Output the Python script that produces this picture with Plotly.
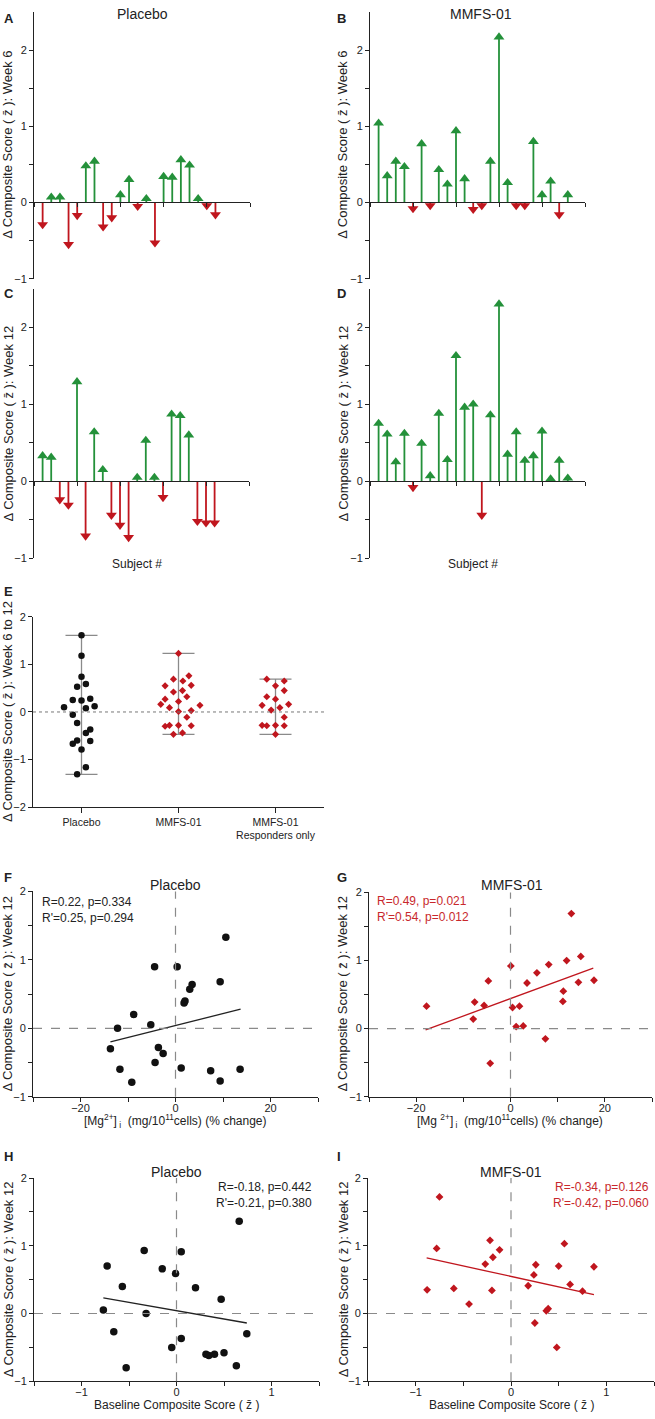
import plotly.graph_objects as go

W, H = 655, 1419
FONT = "Liberation Sans, Arial, sans-serif"
GREEN = "#24913a"
RED = "#c0161e"
TXTRED = "#c8282c"
AX = "#222222"

# ---------------- data ----------------
# Panels A-D: change in composite score per subject
week6_placebo = [-0.29, 0.07, 0.07, -0.55, -0.17, 0.48, 0.54, -0.32, -0.20, 0.10, 0.30,
                 -0.05, 0.05, -0.53, 0.34, 0.33, 0.56, 0.49, 0.05, -0.04, -0.16]
week6_mmfs = [1.04, 0.35, 0.54, 0.47, -0.08, 0.77, -0.04, 0.43, 0.24, 0.94, 0.31, -0.09,
              -0.04, 0.54, 2.17, 0.26, -0.04, -0.04, 0.80, 0.10, 0.28, -0.16, 0.10]
week12_placebo = [0.33, 0.31, -0.24, -0.31, 1.29, -0.71, 0.64, 0.15, -0.44, -0.57, -0.73,
                  0.05, 0.53, 0.05, -0.21, 0.87, 0.85, 0.60, -0.52, -0.54, -0.54]
week12_mmfs = [0.75, 0.61, 0.25, 0.62, -0.08, 0.49, 0.07, 0.88, 0.28, 1.63, 0.96, 1.00,
               -0.44, 0.86, 2.30, 0.35, 0.64, 0.27, 0.33, 0.65, 0.03, 0.27, 0.04]

# Panel E: change week 6 to 12
e_categories = ["Placebo", "MMFS-01", "MMFS-01<br>Responders only"]
e_placebo = [1.61, 1.18, 0.74, 0.53, 0.59, 0.25, 0.24, 0.28, 0.10, 0.08, 0.12, -0.06,
             -0.23, -0.44, -0.37, -0.67, -0.60, -0.61, -0.79, -1.16, -1.31]
e_placebo_jitter = [0, 0, 0, -0.045, 0.045, -0.09, 0, 0.09, -0.18, 0.045, 0.135, -0.09,
                    -0.045, 0.045, 0.09, -0.09, -0.045, 0.09, 0, 0.045, -0.045]
e_mmfs = [1.23, 0.69, 0.65, 0.76, 0.55, 0.56, 0.42, 0.45, 0.32, 0.27, 0.16, 0.22, 0.09,
          0.14, 0.03, 0.01, -0.11, -0.30, -0.28, -0.28, -0.29, -0.47, -0.44]
e_mmfs_jitter = [0, -0.052, 0.045, 0.107, -0.138, 0.131, -0.052, 0.041, 0.086, -0.138,
                 -0.183, 0, -0.093, 0.221, 0.131, 0, 0.086, -0.138, -0.093, 0, 0.131,
                 -0.052, 0.041]
e_resp = [0.69, 0.65, 0.55, 0.32, 0.45, 0.27, 0.14, 0.04, 0.09, 0.16, -0.11, -0.28,
          -0.29, -0.28, -0.29, -0.47]
e_resp_jitter = [-0.09, 0.09, 0, -0.09, 0.09, 0, -0.138, -0.045, 0.045, 0.135, 0.09,
                 -0.138, -0.09, 0, 0.09, 0]

# Panel F: placebo, Mg change vs week-12 change
f_x = [10.6, -4.4, 0.35, 3.5, 3.0, 9.4, 1.8, 2.0, -8.8, -12.2, -5.2, -13.7, -3.6, -2.6,
       -4.3, -11.7, -9.2, 1.2, 7.4, 9.4, 13.6]
f_y = [1.33, 0.90, 0.90, 0.64, 0.57, 0.68, 0.37, 0.40, 0.20, 0.00, 0.05, -0.30, -0.28,
       -0.37, -0.50, -0.60, -0.79, -0.58, -0.62, -0.77, -0.60]
f_fit_x = [-13.7, 13.7]
f_fit_y = [-0.20, 0.28]

# Panel G: MMFS-01, Mg change vs week-12 change
g_x = [-17.8, -7.6, -7.9, -5.6, -4.7, -4.3, 0.07, 0.43, 1.2, 1.9, 2.7, 3.5, 5.6, 8.1,
       7.4, 11.2, 11.1, 11.9, 12.9, 14.9, 14.4, 17.7]
g_y = [0.33, 0.39, 0.14, 0.34, 0.70, -0.51, 0.92, 0.31, 0.03, 0.33, 0.04, 0.67, 0.82,
       0.94, -0.15, 0.55, 0.40, 1.00, 1.69, 1.06, 0.68, 0.71]
g_fit_x = [-18.0, 17.55]
g_fit_y = [-0.02, 0.89]

# Panel H: placebo, baseline vs week-12 change
h_x = [0.66, -0.34, 0.05, -0.73, -0.15, -0.01, -0.57, 0.20, 0.47, -0.77, -0.32, -0.66,
       0.74, 0.05, -0.05, 0.31, 0.34, 0.40, 0.50, 0.63, -0.53]
h_y = [1.36, 0.93, 0.91, 0.70, 0.66, 0.59, 0.40, 0.38, 0.21, 0.05, 0.00, -0.27, -0.30,
       -0.37, -0.50, -0.60, -0.62, -0.60, -0.58, -0.77, -0.80]
h_fit_x = [-0.77, 0.74]
h_fit_y = [0.23, -0.14]

# Panel I: MMFS-01, baseline vs week-12 change
i_x = [-0.75, -0.78, -0.22, -0.12, -0.19, -0.27, -0.88, -0.60, -0.20, -0.44, 0.56, 0.26,
       0.50, 0.87, 0.24, 0.18, 0.62, 0.75, 0.37, 0.39, 0.25, 0.48]
i_y = [1.72, 0.96, 1.08, 0.94, 0.83, 0.73, 0.35, 0.37, 0.34, 0.14, 1.03, 0.72, 0.70,
       0.69, 0.57, 0.41, 0.43, 0.33, 0.04, 0.07, -0.14, -0.50]
i_fit_x = [-0.885, 0.87]
i_fit_y = [0.82, 0.28]

stats_f = ["R=0.22, p=0.334", "R'=0.25, p=0.294"]
stats_g = ["R=0.49, p=0.021", "R'=0.54, p=0.012"]
stats_h = ["R=-0.18, p=0.442", "R'=-0.21, p=0.380"]
stats_i = ["R=-0.34, p=0.126", "R'=-0.42, p=0.060"]

# ---------------- layout helpers ----------------
ZB = "z\u0304"
boxes = {  # left, right, top, bottom in pixels
    1: (34, 250, 6, 275),
    2: (370, 585, 6, 275),
    3: (34, 249, 285, 557),
    4: (370, 585, 285, 557),
    5: (33, 324, 616, 808),
    6: (33, 318, 893, 1100),
    7: (369, 652, 894, 1100),
    8: (34, 319, 1182, 1387),
    9: (368, 654, 1182, 1387),
}


def dom(n):
    l, r, t, b = boxes[n]
    return [l / W, r / W], [1 - b / H, 1 - t / H]


def nm(n):
    return ("x" if n == 1 else f"x{n}"), ("y" if n == 1 else f"y{n}")


def lkey(n):
    return ("xaxis" if n == 1 else f"xaxis{n}"), ("yaxis" if n == 1 else f"yaxis{n}")


base_axis = dict(showline=True, linecolor=AX, linewidth=1, ticks="outside", ticklen=4,
                 tickwidth=1, tickcolor=AX, showgrid=False, zeroline=False,
                 tickfont=dict(family=FONT, size=11, color=AX), fixedrange=True)


def minor(vals):
    return dict(tickvals=vals, ticks="outside", ticklen=4, tickwidth=1, tickcolor=AX,
                showgrid=False)


fig = go.Figure()
layout = {}
annotations = []
shapes = []


def ann(text, px, py, size=12, color=AX, xanchor="center", angle=0, bold=False):
    t = f"<b>{text}</b>" if bold else text
    annotations.append(dict(text=t, x=px / W, y=1 - py / H, xref="paper", yref="paper",
                            xanchor=xanchor, yanchor="middle", showarrow=False,
                            textangle=angle, font=dict(family=FONT, size=size, color=color)))


y_major = [-1, 0, 1, 2]
y_minor = [-0.5, 0.5, 1.5]

# ---------------- stem panels A-D ----------------
stem_sets = [(1, week6_placebo), (2, week6_mmfs), (3, week12_placebo), (4, week12_mmfs)]
for n, vals in stem_sets:
    xa, ya = nm(n)
    xk, yk = lkey(n)
    xd, yd = dom(n)
    y0pos = yd[0] + (0 - (-1)) / 3.5 * (yd[1] - yd[0])
    layout[xk] = dict(base_axis, domain=xd, range=[0, 25], anchor="free", position=y0pos,
                      tickvals=[0, 5, 10, 15, 20, 25], showticklabels=False)
    layout[yk] = dict(base_axis, domain=yd, range=[-1, 2.5], anchor=xa,
                      tickvals=y_major, minor=minor(y_minor))
    for sign, color, sym in [(1, GREEN, "triangle-up"), (-1, RED, "triangle-down")]:
        sx, sy, mx, my = [], [], [], []
        for i, v in enumerate(vals, start=1):
            if (v >= 0) == (sign > 0):
                sx += [i, i, None]
                sy += [0, v, None]
                mx.append(i)
                my.append(v)
        fig.add_trace(go.Scatter(x=sx, y=sy, mode="lines", line=dict(color=color, width=1.8),
                                 xaxis=xa, yaxis=ya, hoverinfo="skip", showlegend=False))
        fig.add_trace(go.Scatter(x=mx, y=my, mode="markers",
                                 marker=dict(symbol=sym, size=9.5, color=color, line=dict(width=0)),
                                 xaxis=xa, yaxis=ya, showlegend=False))

# ---------------- panel E ----------------
xa, ya = nm(5)
xk, yk = lkey(5)
xd, yd = dom(5)
layout[xk] = dict(base_axis, domain=xd, range=[-0.5, 2.5], anchor=ya, tickvals=[0, 1, 2],
                  ticktext=e_categories, ticklen=5,
                  tickfont=dict(family=FONT, size=10.5, color=AX))
layout[yk] = dict(base_axis, domain=yd, range=[-2, 2], anchor=xa, tickvals=[-2, -1, 0, 1, 2])
shapes.append(dict(type="line", xref=f"{xa} domain", yref=ya, x0=0, x1=1, y0=0, y1=0,
                   line=dict(color="#777777", width=1, dash="dot")))
groups = [(0, e_placebo, e_placebo_jitter, "circle", "#111111", 6.5),
          (1, e_mmfs, e_mmfs_jitter, "diamond", RED, 5.5),
          (2, e_resp, e_resp_jitter, "diamond", RED, 5.5)]
for cat, vals, jit, sym, color, size in groups:
    lo, hi = min(vals), max(vals)
    fig.add_trace(go.Scatter(x=[cat], y=[(lo + hi) / 2], mode="markers",
                             marker=dict(size=1, color="rgba(0,0,0,0)"),
                             error_y=dict(type="data", array=[(hi - lo) / 2], visible=True,
                                          color="#8a8a8a", thickness=1.3, width=16),
                             xaxis=xa, yaxis=ya, hoverinfo="skip", showlegend=False))
    fig.add_trace(go.Scatter(x=[cat + j for j in jit], y=vals, mode="markers",
                             marker=dict(symbol=sym, size=size, color=color, line=dict(width=0)),
                             xaxis=xa, yaxis=ya, showlegend=False))

# ---------------- panels F-I ----------------
scatter_sets = [
    (6, f_x, f_y, f_fit_x, f_fit_y, "circle", "#111111", 7.5, AX, [-30, 30]),
    (7, g_x, g_y, g_fit_x, g_fit_y, "diamond", RED, 6, RED, [-30, 30]),
    (8, h_x, h_y, h_fit_x, h_fit_y, "circle", "#111111", 7.5, AX, [-1.5, 1.5]),
    (9, i_x, i_y, i_fit_x, i_fit_y, "diamond", RED, 6, RED, [-1.5, 1.5]),
]
for n, xs, ys, fx, fy, sym, color, size, lcolor, xr in scatter_sets:
    xa, ya = nm(n)
    xk, yk = lkey(n)
    xd, yd = dom(n)
    if xr[1] == 30:
        xt = dict(tickvals=[-20, 0, 20], minor=minor([-30, -10, 10, 30]))
    else:
        xt = dict(tickvals=[-1, 0, 1], minor=minor([-1.5, -0.5, 0.5, 1.5]))
    layout[xk] = dict(base_axis, domain=xd, range=xr, anchor=ya, ticklabelstandoff=-3, **xt)
    layout[yk] = dict(base_axis, domain=yd, range=[-1, 2], anchor=xa,
                      tickvals=y_major, minor=minor(y_minor))
    shapes.append(dict(type="line", xref=f"{xa} domain", yref=ya, x0=0, x1=1, y0=0, y1=0,
                       line=dict(color="#8a8a8a", width=1.2, dash="dash")))
    shapes.append(dict(type="line", xref=xa, yref=f"{ya} domain", x0=0, x1=0, y0=0, y1=1,
                       line=dict(color="#8a8a8a", width=1.2, dash="dash")))
    fig.add_trace(go.Scatter(x=fx, y=fy, mode="lines", line=dict(color=lcolor, width=1.3),
                             xaxis=xa, yaxis=ya, hoverinfo="skip", showlegend=False))
    fig.add_trace(go.Scatter(x=xs, y=ys, mode="markers",
                             marker=dict(symbol=sym, size=size, color=color, line=dict(width=0)),
                             xaxis=xa, yaxis=ya, showlegend=False))

# ---------------- text ----------------
ann("Placebo", 142, 8, size=14)
ann("MMFS-01", 481, 8, size=14)
ann("Placebo", 175, 887, size=14)
ann("MMFS-01", 512, 887, size=14)
ann("Placebo", 176, 1176, size=14)
ann("MMFS-01", 511, 1176, size=14)

for letter, px, py in [("A", 2, 13), ("B", 335, 13), ("C", 2, 290), ("D", 335, 290),
                       ("E", 2, 590), ("F", 2, 879), ("G", 335, 879), ("H", 2, 1160),
                       ("I", 335, 1160)]:
    ann(letter, px, py, size=13, xanchor="left", bold=True)

ytitle6 = f"\u0394 Composite Score ( {ZB} ): Week 6"
ytitle12 = f"\u0394 Composite Score ( {ZB} ): Week 12"
YT = 13
ann(ytitle6, 8, 140, size=YT, angle=-90)
ann(ytitle6, 343, 140, size=YT, angle=-90)
ann(ytitle12, 8, 421, size=YT, angle=-90)
ann(ytitle12, 343, 421, size=YT, angle=-90)
ann(f"\u0394 Composite Score ( {ZB} ): Week 6 to 12", 8, 712, size=YT, angle=-90)
ann(ytitle12, 8, 996, size=YT, angle=-90)
ann(ytitle12, 343, 996, size=YT, angle=-90)
ann(ytitle12, 8, 1284, size=YT, angle=-90)
ann(ytitle12, 343, 1284, size=YT, angle=-90)

ann("Subject #", 137, 563)
ann("Subject #", 473, 563)
ann("[Mg<sup>2+</sup>]<sub> i</sub>  (mg/10<sup>11</sup>cells) (% change)", 175, 1125)
ann("[Mg <sup>2+</sup>]<sub> i</sub>  (mg/10<sup>11</sup>cells) (% change)", 510, 1125)
ann(f"Baseline Composite Score ( {ZB} )", 177, 1411)
ann(f"Baseline Composite Score ( {ZB} )", 511, 1411)

ann(stats_f[0], 40, 904, xanchor="left")
ann(stats_f[1], 40, 920, xanchor="left")
ann(stats_g[0], 375, 903, color=TXTRED, xanchor="left")
ann(stats_g[1], 375, 919, color=TXTRED, xanchor="left")
ann(stats_h[0], 314, 1191, xanchor="right")
ann(stats_h[1], 314, 1207, xanchor="right")
ann(stats_i[0], 651, 1191, color=TXTRED, xanchor="right")
ann(stats_i[1], 651, 1207, color=TXTRED, xanchor="right")

fig.update_layout(width=W, height=H, margin=dict(l=0, r=0, t=0, b=0),
                  paper_bgcolor="white", plot_bgcolor="white", showlegend=False,
                  annotations=annotations, shapes=shapes,
                  font=dict(family=FONT, size=11, color=AX), **layout)

fig.write_html("out.html", config={"displayModeBar": False},
               post_script="document.body.style.margin='0';document.body.style.padding='0';")
